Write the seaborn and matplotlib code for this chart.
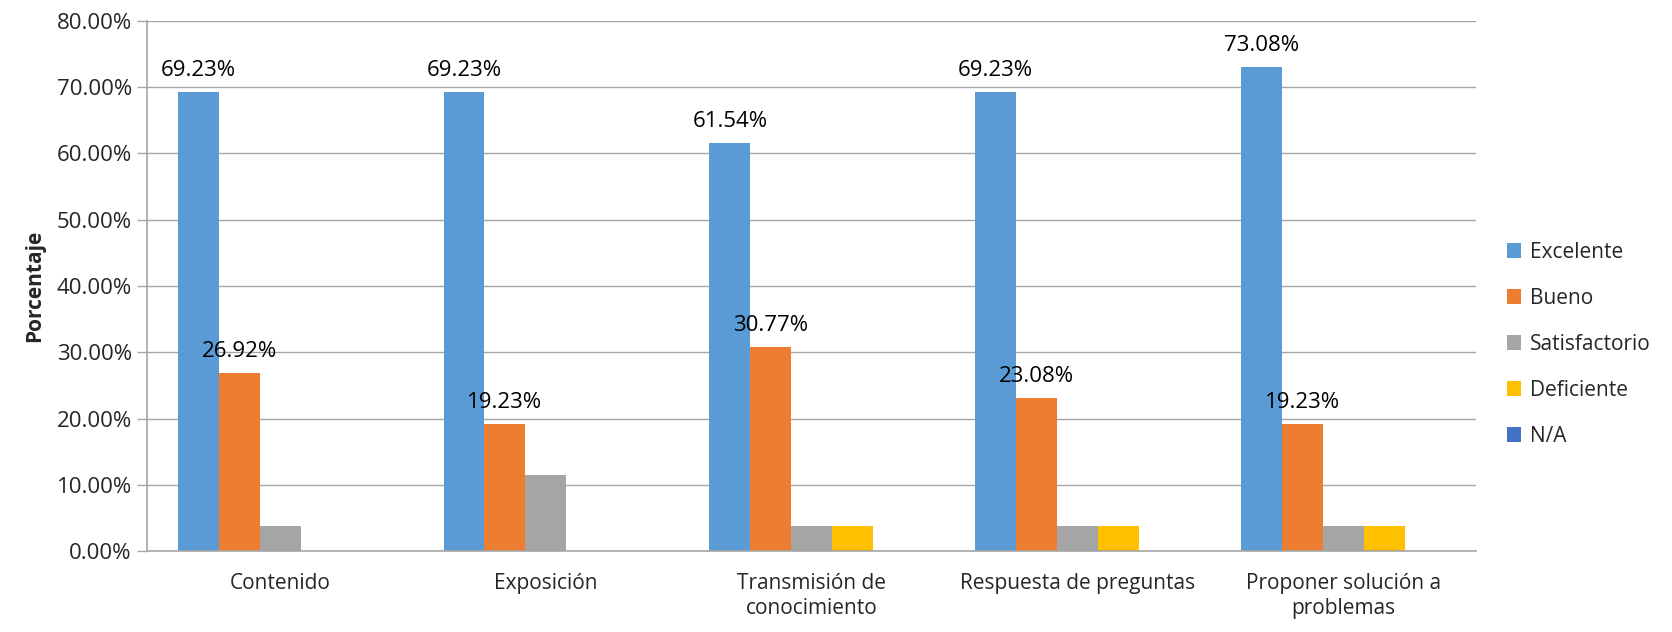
import matplotlib
matplotlib.use("Agg")
import matplotlib.pyplot as plt
import seaborn as sns
import pandas as pd
import numpy as np

# chart data
categorias = ["Contenido", "Exposición", "Transmisión de\nconocimiento",
              "Respuesta de preguntas", "Proponer solución a\nproblemas"]
niveles = ["Excelente", "Bueno", "Satisfactorio", "Deficiente", "N/A"]
excelente = [69.23, 69.23, 61.54, 69.23, 73.08]
bueno = [26.92, 19.23, 30.77, 23.08, 19.23]
satisfactorio = [3.85, 11.54, 3.85, 3.85, 3.85]
deficiente = [0.0, 0.0, 3.85, 3.85, 3.85]
na = [0.0, 0.0, 0.0, 0.0, 0.0]
colores = ["#5B9BD5", "#ED7D31", "#A5A5A5", "#FFC000", "#4472C4"]

series = [excelente, bueno, satisfactorio, deficiente, na]
rows = []
for nivel, vals in zip(niveles, series):
    for cat, v in zip(categorias, vals):
        rows.append({"Categoria": cat, "Nivel": nivel, "Porcentaje": v})
df = pd.DataFrame(rows)

sns.set_style("white")
plt.rcParams["font.family"] = ["Open Sans", "DejaVu Sans"]

fig = plt.figure(figsize=(16.72, 6.32), dpi=100)
ax = fig.add_axes([0.088, 0.128, 0.795, 0.839])

sns.barplot(data=df, x="Categoria", y="Porcentaje", hue="Nivel",
            order=categorias, hue_order=niveles, palette=colores,
            width=0.77, saturation=1, edgecolor="none", ax=ax, legend=True)

# data labels on Excelente and Bueno only
for cont, vals in zip(ax.containers[:2], series[:2]):
    ax.bar_label(cont, labels=[f"{v:.2f}%" for v in vals], padding=8,
                 fontsize=16, color="#000000")

ax.set_ylim(0, 80)
ax.set_yticks(np.arange(0, 81, 10))
ax.set_yticklabels([f"{t:.2f}%" for t in np.arange(0, 81, 10)], fontsize=16)
ax.set_xlim(-0.5, len(categorias) - 0.5)
ax.tick_params(axis="x", labelsize=15, length=0, pad=16)
ax.tick_params(axis="y", length=7, color="#A6A6A6", width=1, direction="out", left=True, pad=4)

ax.yaxis.grid(True, color="#A6A6A6", linewidth=1)
ax.set_axisbelow(True)
for s in ["top", "right"]:
    ax.spines[s].set_visible(False)
for s in ["left", "bottom"]:
    ax.spines[s].set_color("#A6A6A6")
    ax.spines[s].set_linewidth(1.2)

ax.set_xlabel("")
ax.set_ylabel("Porcentaje", fontsize=15, fontweight="bold", labelpad=8)

ax.legend(loc="center left", bbox_to_anchor=(1.012, 0.39), frameon=False,
          fontsize=15, labelspacing=1.2, handlelength=0.7, handleheight=0.7,
          handletextpad=0.4, borderaxespad=0.3)

fig.savefig("out.png", dpi=100)
